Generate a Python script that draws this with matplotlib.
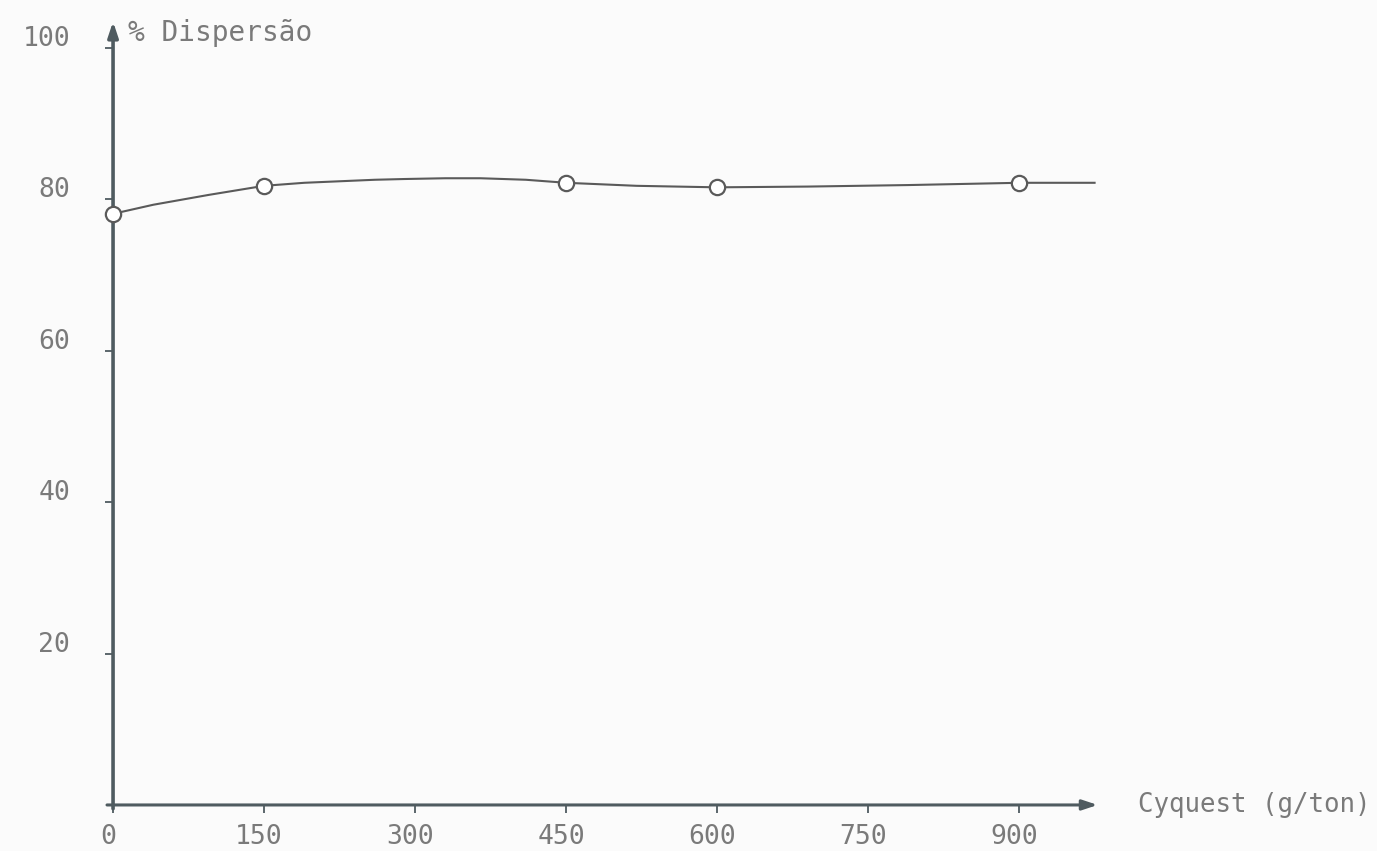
import matplotlib
matplotlib.use("Agg")
import matplotlib.pyplot as plt
import matplotlib.transforms as mtransforms

# measured points (Cyquest dose vs % dispersion)
dose = [0, 150, 450, 600, 900]
dispersion = [78.1, 81.8, 82.2, 81.6, 82.2]

# hand-drawn smoothing curve through the measurements
curve_x = [0, 40, 95, 150, 190, 225, 260, 290, 330, 365, 410, 450, 520, 600, 690, 790, 900, 975]
curve_y = [78.1, 79.3, 80.6, 81.8, 82.2, 82.4, 82.6, 82.7, 82.8, 82.8, 82.6, 82.2, 81.8, 81.6, 81.7, 81.9, 82.2, 82.2]

x_ticks = [0, 150, 300, 450, 600, 750, 900]
y_ticks = [20, 40, 60, 80, 100]

ink = "#4f5b60"
txt = "#7a7a7a"
font = "DejaVu Sans Mono"

fig = plt.figure(figsize=(13.77, 8.51), dpi=100, facecolor="#fbfbfb")
ax = fig.add_axes([0.0821, 0.0541, 0.7150, 0.9250])
ax.set_facecolor("#fbfbfb")
ax.set_xlim(0, 978)
ax.set_ylim(0, 104)

for s in ax.spines.values():
    s.set_visible(False)

# axes drawn as arrows
ax.annotate("", xy=(978, 0), xytext=(-6, 0),
            arrowprops=dict(arrowstyle="-|>,head_length=0.9,head_width=0.3",
                            color=ink, lw=2.2, shrinkA=0, shrinkB=0),
            annotation_clip=False)
ax.annotate("", xy=(0, 103.5), xytext=(0, -0.5),
            arrowprops=dict(arrowstyle="-|>,head_length=0.9,head_width=0.3",
                            color=ink, lw=2.6, shrinkA=0, shrinkB=0),
            annotation_clip=False)

ax.plot(curve_x, curve_y, color="#5a5a5a", lw=1.5, zorder=3)
ax.plot(dose, dispersion, linestyle="none", marker="o", markersize=11,
        markerfacecolor="white", markeredgecolor="#5a5a5a", markeredgewidth=1.6,
        zorder=4, clip_on=False)

ax.set_xticks(x_ticks)
ax.set_xticklabels([str(v) for v in x_ticks], fontfamily=font, fontsize=19, color=txt)
ax.set_yticks(y_ticks)
ax.set_yticklabels([str(v) for v in y_ticks], fontfamily=font, fontsize=19, color=txt)
ax.tick_params(axis="x", direction="out", length=6, width=1.3, color=ink, pad=8)
ax.tick_params(axis="y", direction="out", length=6, width=1.3, color=ink, pad=25)

# typed labels sit a little off their tick marks
shift_y = mtransforms.ScaledTranslation(0, 12 / 100, fig.dpi_scale_trans)
for lab in ax.get_yticklabels():
    lab.set_transform(lab.get_transform() + shift_y)
shift_x = mtransforms.ScaledTranslation(-5 / 100, 0, fig.dpi_scale_trans)
for lab in ax.get_xticklabels():
    lab.set_transform(lab.get_transform() + shift_x)

ax.text(15, 102, "% Dispersão", fontfamily=font, fontsize=20, color=txt,
        ha="left", va="center")
ax.text(1018, 0, "Cyquest (g/ton)", fontfamily=font, fontsize=18.5, color=txt,
        ha="left", va="center", clip_on=False)

fig.savefig("out.png", dpi=100, facecolor=fig.get_facecolor())
